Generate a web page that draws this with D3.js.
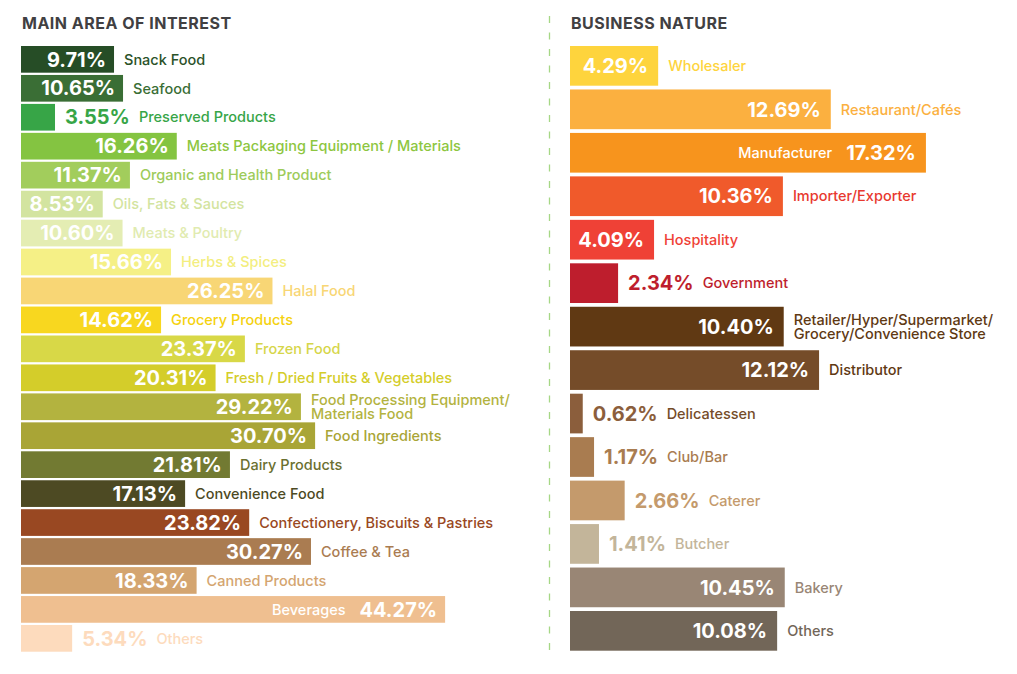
<!DOCTYPE html>
<html>
<head>
<meta charset="utf-8">
<script src="https://cdn.jsdelivr.net/npm/d3@7"></script>
<style>
  html, body { margin: 0; padding: 0; background: #ffffff; }
  svg { display: block; font-family: Inter, "Open Sans", sans-serif; }
</style>
</head>
<body>
<svg id="chart" width="1017" height="674"></svg>
<script>
// ---------- DATA ----------
const interestCategories = [
  "Snack Food", "Seafood", "Preserved Products", "Meats Packaging Equipment / Materials",
  "Organic and Health Product", "Oils, Fats & Sauces", "Meats & Poultry", "Herbs & Spices",
  "Halal Food", "Grocery Products", "Frozen Food", "Fresh / Dried Fruits & Vegetables",
  "Food Processing Equipment/\nMaterials Food", "Food Ingredients", "Dairy Products",
  "Convenience Food", "Confectionery, Biscuits & Pastries", "Coffee & Tea",
  "Canned Products", "Beverages", "Others"
];
const interestValues = [
  9.71, 10.65, 3.55, 16.26, 11.37, 8.53, 10.60, 15.66, 26.25, 14.62, 23.37, 20.31,
  29.22, 30.70, 21.81, 17.13, 23.82, 30.27, 18.33, 44.27, 5.34
];
const natureCategories = [
  "Wholesaler", "Restaurant/Cafés", "Manufacturer", "Importer/Exporter", "Hospitality",
  "Government", "Retailer/Hyper/Supermarket/\nGrocery/Convenience Store", "Distributor",
  "Delicatessen", "Club/Bar", "Caterer", "Butcher", "Bakery", "Others"
];
const natureValues = [
  4.29, 12.69, 17.32, 10.36, 4.09, 2.34, 10.40, 12.12, 0.62, 1.17, 2.66, 1.41, 10.45, 10.08
];

// ---------- STYLE ----------
const interestColors = [
  "#264d26", "#3a6e35", "#37a547", "#84c441", "#a2cd5c", "#d3e4a0", "#e4edb3", "#f5f086",
  "#f8d675", "#f8d71f", "#d8d847", "#d4cd2a", "#b3b33f", "#a9a536", "#727a32", "#4d4a23",
  "#994822", "#aa7c51", "#d4a570", "#efbf90", "#fddbbd"
];
const interestLabelColors = [
  "#2b5229", "#3a6e35", "#37a547", "#8dc63f", "#9dcb5a", "#d3e4a0", "#e1ebb0", "#f3ee7f",
  "#f8d675", "#f5d20f", "#d6d64a", "#d4cd2a", "#b3b33f", "#a9a536", "#6b7030", "#4d4a23",
  "#994822", "#aa7c51", "#d4a570", "#efbf90", "#fddbbd"
];
const natureColors = [
  "#fed43d", "#fbb040", "#f7941d", "#f05a2b", "#ef4136", "#be1e2d", "#603913", "#754c29",
  "#8b5e3c", "#a97c50", "#c49a6c", "#c3b59a", "#998675", "#726658"
];
const natureLabelColors = [
  "#fed43d", "#fbb040", "#f7941d", "#e8392f", "#ef4136", "#be1e2d", "#603913", "#603913",
  "#754c29", "#a97c50", "#c49a6c", "#c3b59a", "#998675", "#726658"
];

const svg = d3.select("#chart");

function drawPanel(cfg) {
  const g = svg.append("g");
  const n = cfg.categories.length;
  const x = d3.scaleLinear().domain([0, 100]).range([cfg.x0, cfg.x0 + cfg.pxPerPct * 100]);
  const y = d3.scaleBand().domain(d3.range(n)).range(cfg.yRange)
    .paddingInner(cfg.padInner).paddingOuter(0);
  const maxIdx = d3.maxIndex(cfg.values);

  g.append("text")
    .attr("x", cfg.x0 + cfg.titleDx).attr("y", 29)
    .attr("fill", "#414042")
    .style("font-size", "16px").style("font-weight", 700)
    .style("letter-spacing", "0.5px")
    .text(cfg.title);

  const fmt = v => v.toFixed(2) + "%";

  d3.range(n).forEach(i => {
    const v = cfg.values[i];
    const y0 = y(i), bh = y.bandwidth(), cy = y0 + bh / 2;
    const xe = x(v);
    g.append("rect")
      .attr("x", x(0)).attr("y", y0)
      .attr("width", xe - x(0)).attr("height", bh)
      .attr("fill", cfg.colors[i]);

    const val = g.append("text")
      .attr("y", cy).attr("dy", "0.36em")
      .style("font-size", cfg.valueSize + "px").style("font-weight", 700)
      .text(fmt(v));
    const vw = val.node().getComputedTextLength();
    const lines = cfg.categories[i].split("\n");
    const name = g.append("text")
      .style("font-size", cfg.nameSize + "px").style("font-weight", 500);
    lines.forEach((ln, k) => {
      name.append("tspan")
        .attr("y", cy + (k - (lines.length - 1) / 2) * cfg.lineH)
        .attr("dy", "0.36em")
        .text(ln);
    });

    if (i === maxIdx) {
      val.attr("x", xe - cfg.padIn).attr("text-anchor", "end").attr("fill", "#ffffff");
      name.attr("text-anchor", "end").attr("fill", "#ffffff");
      name.selectAll("tspan").attr("x", xe - cfg.padIn - vw - 14);
    } else if (vw + cfg.padIn + 2 < xe - x(0)) {
      val.attr("x", xe - cfg.padIn).attr("text-anchor", "end").attr("fill", "#ffffff");
      name.attr("fill", cfg.labelColors[i]);
      name.selectAll("tspan").attr("x", xe + cfg.nameGap);
    } else {
      val.attr("x", xe + 10).attr("fill", cfg.colors[i]);
      name.attr("fill", cfg.labelColors[i]);
      name.selectAll("tspan").attr("x", xe + 10 + vw + 9);
    }
  });
}

drawPanel({
  title: "MAIN AREA OF INTEREST",
  categories: interestCategories, values: interestValues,
  colors: interestColors, labelColors: interestLabelColors,
  x0: 21, titleDx: 1, pxPerPct: 9.58,
  yRange: [46, 651.7], padInner: 0.078,
  valueSize: 20, nameSize: 14.5, lineH: 13.5, padIn: 8, nameGap: 10
});

drawPanel({
  title: "BUSINESS NATURE",
  categories: natureCategories, values: natureValues,
  colors: natureColors, labelColors: natureLabelColors,
  x0: 570, titleDx: 1, pxPerPct: 20.55,
  yRange: [46, 650.7], padInner: 0.0865,
  valueSize: 20, nameSize: 14.5, lineH: 14, padIn: 10, nameGap: 10
});

// dashed divider
svg.append("line")
  .attr("x1", 549.5).attr("x2", 549.5)
  .attr("y1", 16).attr("y2", 650)
  .attr("stroke", "#a6d785").attr("stroke-width", 1.3)
  .attr("stroke-dasharray", "7 9.5");
</script>
</body>
</html>
